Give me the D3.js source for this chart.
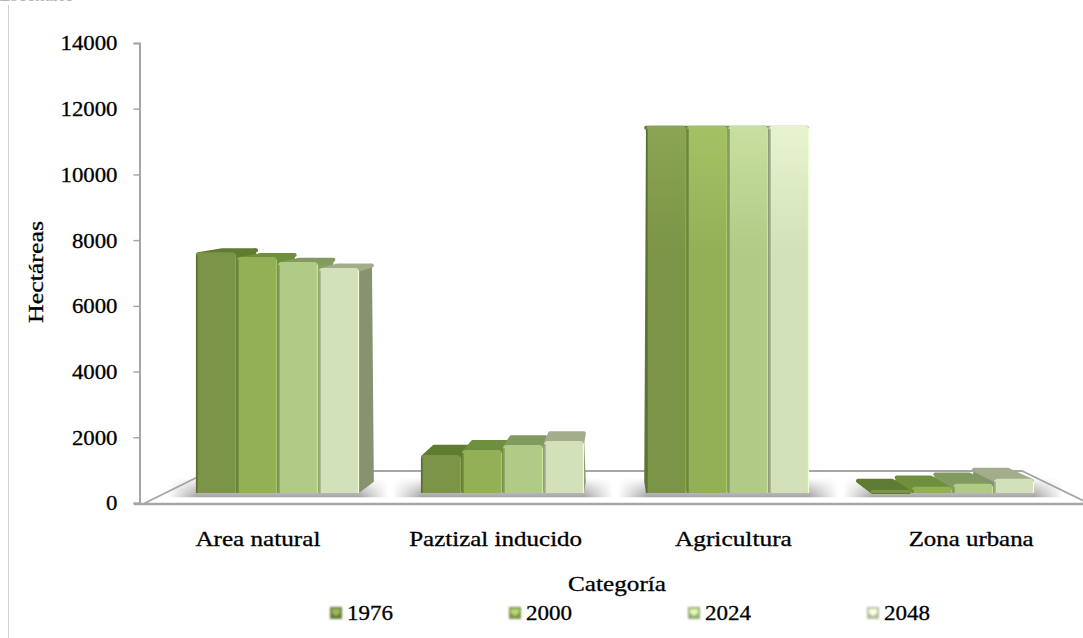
<!DOCTYPE html>
<html><head><meta charset="utf-8">
<script src="https://cdn.jsdelivr.net/npm/d3@7"></script>
<style>
html,body{margin:0;padding:0;background:#fff}
svg{display:block}
text{font-family:"Liberation Serif",serif;fill:#000;stroke:#000;stroke-width:.3px}
</style></head><body>
<svg id="c" width="1083" height="638"></svg>
<script>
const categories = ["Area natural","Paztizal inducido","Agricultura","Zona urbana"];
const years = ["1976","2000","2024","2048"];
const v1976 = [7330,1160,11180,90];
const v2000 = [7180,1310,11180,190];
const v2024 = [7030,1460,11180,285];
const v2048 = [6850,1580,11180,435];
const seriesValues = [v1976,v2000,v2024,v2048];
const yTicks = [0,2000,4000,6000,8000,10000,12000,14000];
const categoryLabelWidths = [125,173,117,125];
const baseColors = ["#7b9446","#93b056","#b0cb86","#d2e1b9"];
const lightColors = ["#8ba554","#a4c265","#c9df9f","#e7f4d0"];
const sideColors = ["#5f7c33","#6f9038","#83a05c","#87926f"];
const topColors  = ["#5e7b31","#6e8f3c","#82995f","#a3ad8c"];

const svg = d3.select("#c");
const defs = svg.append("defs");
const VPX = 615, VPY = 127, TX = 0.058, TY = 0.031;
const back = (x,y)=>[x+TX*(VPX-x), y+TY*(VPY-y)];

const axisY = d3.scaleLinear().domain([0,14000]).range([503,43]);
const barY  = d3.scaleLinear().domain([0,14000]).range([493,33]);
const labelX = d3.scaleBand().domain(categories).range([139,1090]);
const groupX = d3.scaleBand().domain(categories).range([165.5,1065.5]).paddingInner(61/225).paddingOuter(30.5/225);
const barX = d3.scaleBand().domain(years).range([0,groupX.bandwidth()]);

// page fragments
svg.append("line").attr("x1",8.5).attr("x2",8.5).attr("y1",5).attr("y2",638).attr("stroke","#d4d4d4").attr("stroke-width",1);
svg.append("text").attr("x",-1).attr("y",1).attr("font-size",20).attr("textLength",75)
  .attr("lengthAdjust","spacingAndGlyphs").style("fill","#b5b5b5").style("stroke","none").text("Escenario");

// gradients and filters
years.forEach((y,i)=>{
  const g = defs.append("linearGradient").attr("id","g"+i).attr("gradientUnits","userSpaceOnUse")
    .attr("x1",0).attr("x2",0).attr("y1",barY(11180)).attr("y2",barY(7300));
  g.append("stop").attr("offset",0).attr("stop-color",lightColors[i]);
  g.append("stop").attr("offset",1).attr("stop-color",baseColors[i]);
});
const soft = defs.append("filter").attr("id","soft").attr("x","-5%").attr("y","-5%").attr("width","110%").attr("height","110%");
soft.append("feGaussianBlur").attr("stdDeviation",0.55);
const soft2 = defs.append("filter").attr("id","soft2").attr("x","-20%").attr("y","-20%").attr("width","140%").attr("height","140%");
soft2.append("feGaussianBlur").attr("stdDeviation",0.8);
const sg = defs.append("linearGradient").attr("id","shadow").attr("x1",0).attr("x2",0).attr("y1",0).attr("y2",1);
sg.append("stop").attr("offset",0).attr("stop-color","#a4a4a4").attr("stop-opacity",0);
sg.append("stop").attr("offset",.5).attr("stop-color","#a4a4a4").attr("stop-opacity",.55);
sg.append("stop").attr("offset",1).attr("stop-color","#a4a4a4").attr("stop-opacity",1);
const fade = defs.append("linearGradient").attr("id","fade").attr("x1",0).attr("x2",1).attr("y1",0).attr("y2",0);
[[0,0],[.13,1],[.87,1],[1,0]].forEach(([o,w])=>fade.append("stop").attr("offset",o).attr("stop-color","#fff").attr("stop-opacity",w));
const mask = defs.append("mask").attr("id","fadeMask").attr("maskContentUnits","objectBoundingBox");
mask.append("rect").attr("width",1).attr("height",1).attr("fill","url(#fade)");

// floor
const floorY = axisY(0)+1, floorBack = 471;
const corners = [[143,floorY],[210,floorBack],[1022,floorBack],[1090,floorY]];
svg.append("path").attr("d",d3.line()(corners)+"Z").attr("fill","#fff");
const gridStroke="#a6a6a6";
svg.append("path").attr("d",d3.line()(corners)).attr("fill","none").attr("stroke",gridStroke).attr("stroke-width",1.8);

// shadows
const shadows = svg.append("g");
categories.forEach(c=>{
  const x0 = groupX(c), w = groupX.bandwidth();
  shadows.append("rect").attr("x",x0-28).attr("y",478).attr("width",w+56).attr("height",19.5)
   .attr("fill","url(#shadow)").attr("mask","url(#fadeMask)");
});

// bars, far from the vanishing point first
const bars = [];
categories.forEach((c,ci)=>years.forEach((y,si)=>bars.push({c,ci,y,si,v:seriesValues[si][ci]})));
bars.forEach(d=>{d.x0=groupX(d.c)+barX(d.y); d.x1=d.x0+barX.bandwidth()-1; d.yt=barY(d.v); d.yb=barY(0);});
bars.sort((a,b)=>Math.abs((b.x0+b.x1)/2-VPX)-Math.abs((a.x0+a.x1)/2-VPX));
const gb = svg.append("g").attr("filter","url(#soft)");
const poly = pts=>d3.line()(pts)+"Z";
bars.forEach(d=>{
  const g = gb.append("g");
  const r = 2;
  const tl=[d.x0+r,d.yt+r], tr=[d.x1-r,d.yt+r], bl_=[d.x0,d.yb], br_=[d.x1,d.yb];
  const btl=back(d.x0+r,d.yt), btr=back(d.x1-r,d.yt), bbl=back(...bl_), bbr=back(...br_);
  const col = d.c==="Agricultura" ? `url(#g${d.si})` : baseColors[d.si];
  if (d.x1<VPX) g.append("path").attr("d",poly([[d.x1,d.yt+r],btr,bbr,br_])).attr("fill",sideColors[d.si]);
  if (d.x0>VPX) g.append("path").attr("d",poly([[d.x0,d.yt+r],btl,bbl,bl_])).attr("fill",sideColors[d.si]);
  g.append("path").attr("d",poly([tl,[btl[0],btl[1]+r],[btr[0],btr[1]+r],tr])).attr("fill",topColors[d.si])
    .attr("stroke",topColors[d.si]).attr("stroke-width",2*r).attr("stroke-linejoin","round");
  const h = Math.max(d.yb-d.yt,1);
  const rx = Math.min(4,h/2);
  g.append("path").attr("d",`M${d.x0},${d.yb}V${d.yt+rx}Q${d.x0},${d.yt} ${d.x0+rx},${d.yt}H${d.x1-rx}Q${d.x1},${d.yt} ${d.x1},${d.yt+rx}V${d.yb}Z`).attr("fill",col);
  if (h>6){
    g.append("line").attr("x1",d.x0+.8).attr("x2",d.x0+.8).attr("y1",d.yt+3).attr("y2",d.yb).attr("stroke",d3.color(baseColors[d.si]).darker(.8)).attr("stroke-width",1.8);
    g.append("line").attr("x1",d.x1-.5).attr("x2",d.x1-.5).attr("y1",d.yt+3).attr("y2",d.yb).attr("stroke",d3.color(baseColors[d.si]).brighter(.35)).attr("stroke-width",1.2);
  }
});

// front baseline
svg.append("line").attr("x1",134).attr("x2",1083).attr("y1",floorY).attr("y2",floorY).attr("stroke",gridStroke).attr("stroke-width",2.4);

// y axis
const ax = svg.append("g").attr("transform","translate(139.5,0)")
  .call(d3.axisLeft(axisY).tickValues(yTicks).tickSize(6).tickPadding(15).tickFormat(d3.format("d")));
ax.select(".domain").attr("stroke",gridStroke).attr("stroke-width",2);
ax.selectAll(".tick line").attr("stroke",gridStroke).attr("stroke-width",1.5);
ax.selectAll(".tick text").attr("font-size",21).attr("dy","0.33em")
  .attr("x",-22).each(function(d){ const n=String(d).length; d3.select(this).attr("textLength",n*11.4).attr("lengthAdjust","spacingAndGlyphs"); });

// category labels
svg.append("g").selectAll("text").data(categories).join("text")
  .attr("x",(d,i)=>labelX(d)+labelX.bandwidth()/2).attr("y",546).attr("text-anchor","middle")
  .attr("font-size",21).attr("textLength",(d,i)=>categoryLabelWidths[i]).attr("lengthAdjust","spacingAndGlyphs").text(d=>d);

// titles
svg.append("text").attr("transform","translate(43,272) rotate(-90)").attr("text-anchor","middle")
  .attr("font-size",20).attr("textLength",102).attr("lengthAdjust","spacingAndGlyphs").text("Hectáreas");
svg.append("text").attr("x",617).attr("y",591).attr("text-anchor","middle")
  .attr("font-size",21).attr("textLength",98).attr("lengthAdjust","spacingAndGlyphs").text("Categoría");

// legend
const legendX = d3.scalePoint().domain(years).range([330,867]);
const lg = svg.append("g").selectAll("g").data(years).join("g").attr("transform",d=>`translate(${legendX(d)},607)`);
const sw = lg.append("g").attr("filter","url(#soft2)");
sw.append("rect").attr("width",12).attr("height",12).attr("fill",(d,i)=>d3.color(baseColors[i]).darker(.45));
sw.append("path").attr("d","M2,2L10,2L10,6L6,9L2,6Z").attr("fill",(d,i)=>d3.color(lightColors[i]).brighter(.3));
lg.append("text").attr("x",17).attr("y",13).attr("font-size",21).attr("textLength",46).attr("lengthAdjust","spacingAndGlyphs").text(d=>d);
</script>
</body></html>
